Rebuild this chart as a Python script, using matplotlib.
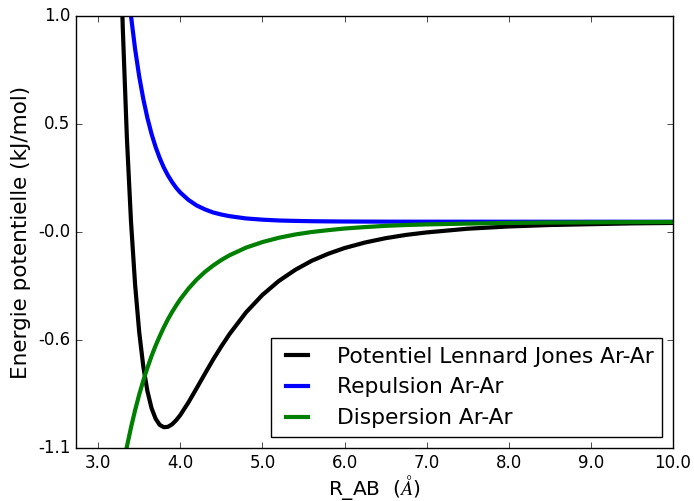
import matplotlib
matplotlib.use('Agg')
import matplotlib.pyplot as plt

plt.style.use('classic')

# distance Ar-Ar (angstrom) and energies (kJ/mol)
r = [3.2, 3.25, 3.3, 3.35, 3.4, 3.45, 3.5, 3.55, 3.6, 3.65, 3.7, 3.75, 3.8,
     3.85, 3.9, 3.95, 4.0, 4.1, 4.2, 4.3, 4.4, 4.5, 4.6, 4.8, 5.0, 5.2, 5.4,
     5.6, 5.8, 6.0, 6.25, 6.5, 6.75, 7.0, 7.5, 8.0, 8.5, 9.0, 9.5, 10.0]

lj = [2.525, 1.630, 0.939, 0.406, 0.0, -0.307, -0.537, -0.705, -0.824,
      -0.906, -0.958, -0.988, -0.999, -0.997, -0.985, -0.965, -0.940,
      -0.878, -0.809, -0.739, -0.670, -0.606, -0.546, -0.441, -0.356,
      -0.288, -0.234, -0.190, -0.156, -0.128, -0.101, -0.080, -0.064,
      -0.052, -0.034, -0.023, -0.016, -0.012, -0.008, -0.006]

rep = [2.070, 1.719, 1.431, 1.195, 1.0, 0.839, 0.706, 0.596, 0.504, 0.427,
       0.363, 0.309, 0.263, 0.225, 0.193, 0.165, 0.142, 0.106, 0.079,
       0.060, 0.045, 0.035, 0.027, 0.016, 0.010, 0.006, 0.004, 0.0025,
       0.0017, 0.0011, 0.0007, 0.0004, 0.0003, 0.0002, 0.0001, 0.0,
       0.0, 0.0, 0.0, 0.0]

disp = [-1.439, -1.311, -1.196, -1.093, -1.0, -0.916, -0.840, -0.772,
        -0.710, -0.653, -0.602, -0.556, -0.513, -0.474, -0.439, -0.407,
        -0.377, -0.325, -0.281, -0.244, -0.213, -0.186, -0.163, -0.126,
        -0.099, -0.078, -0.062, -0.050, -0.041, -0.033, -0.026, -0.020,
        -0.016, -0.013, -0.009, -0.006, -0.004, -0.003, -0.002, -0.0015]

yticks = [-1.1, -0.575, -0.05, 0.475, 1.0]
ylabels = ['-1.1', '-0.6', '-0.0', '0.5', '1.0']
xticks = [3.0, 4.0, 5.0, 6.0, 7.0, 8.0, 9.0, 10.0]

fig = plt.figure(figsize=(6.94, 5.01), dpi=100)
fig.patch.set_facecolor('white')
ax = fig.add_subplot(111)
fig.subplots_adjust(left=0.1095, right=0.9697, top=0.968, bottom=0.1058)

ax.plot(r, lj, 'k-', lw=3, label='Potentiel Lennard Jones Ar-Ar')
ax.plot(r, rep, 'b-', lw=3, label='Repulsion Ar-Ar')
ax.plot(r, disp, 'g-', lw=3, label='Dispersion Ar-Ar')

ax.set_xlim(2.73, 10.0)
ax.set_ylim(-1.1, 1.0)
ax.set_yticks(yticks)
ax.set_yticklabels(ylabels)
ax.set_xticks(xticks)
ax.set_xticklabels(['%.1f' % t for t in xticks])

ax.set_xlabel(r'R_AB  ($\AA$)', fontsize=14.5, labelpad=1)
ax.set_ylabel('Energie potentielle (kJ/mol)', fontsize=15.5)
ax.legend(loc='lower right', fontsize=15.7, handlelength=1.6,
          handletextpad=1.0)

fig.savefig('out.png', dpi=100)
